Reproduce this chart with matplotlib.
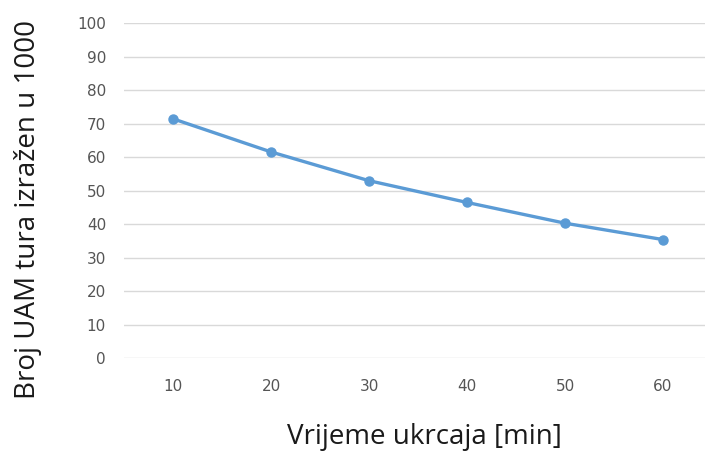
import matplotlib
matplotlib.use("Agg")
import matplotlib.pyplot as plt

# boarding time [min] vs number of UAM tours (in thousands)
categories = ["10", "20", "30", "40", "50", "60"]
values = [71.5, 61.6, 53.0, 46.5, 40.3, 35.4]
yticks = list(range(0, 101, 10))

fig = plt.figure(figsize=(7.05, 4.57), dpi=100)
ax = fig.add_axes([0.176, 0.2166, 0.834, 0.732])

x = list(range(len(categories)))
ax.plot(x, values, color="#5B9BD5", linewidth=2.4, marker="o", markersize=6.5,
        solid_capstyle="round", zorder=3)

ax.set_xlim(-0.5, len(categories) - 0.5)
ax.set_ylim(0, 100)
ax.set_xticks(x)
ax.set_xticklabels(categories)
ax.set_yticks(yticks)

ax.grid(axis="y", color="#D9D9D9", linewidth=1.0)
ax.set_axisbelow(True)
for s in ax.spines.values():
    s.set_visible(False)
ax.tick_params(length=0, labelsize=11, labelcolor="#555555")
ax.tick_params(axis="x", pad=15)
ax.tick_params(axis="y", pad=13)
for lbl in ax.get_xticklabels() + ax.get_yticklabels():
    lbl.set_family("DejaVu Sans")

ax.set_xlabel("Vrijeme ukrcaja [min]", fontsize=20, family="Open Sans",
              color="#1a1a1a")
ax.set_ylabel("Broj UAM tura izražen u 1000", fontsize=20, family="Open Sans",
              color="#1a1a1a")
ax.xaxis.set_label_coords(0.51, -0.195)
ax.yaxis.set_label_coords(-0.14, 0.445)

fig.savefig("out.png", dpi=100)
